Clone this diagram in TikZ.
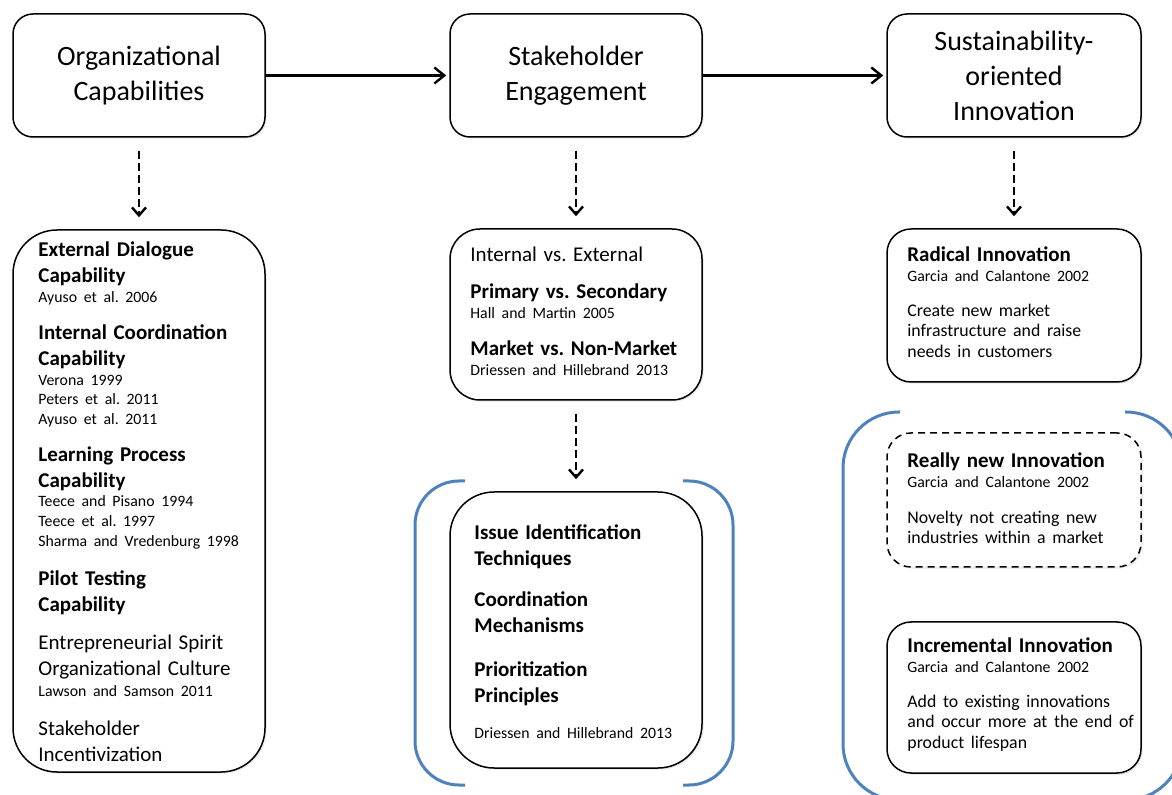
\documentclass[tikz,border=0pt]{standalone}
\usepackage{fontspec}
\setmainfont{Carlito}
\usetikzlibrary{arrows.meta,shadows}

\definecolor{bracketblue}{RGB}{79,129,189}

\newcommand{\head}[1]{{\fontsize{10.5pt}{13pt}\selectfont\bfseries #1\par}}
\newcommand{\plain}[1]{{\fontsize{10.5pt}{13pt}\selectfont #1\par}}
\newcommand{\refline}[1]{{\fontsize{7.9pt}{9.8pt}\selectfont #1\par}}
\newcommand{\desc}[1]{{\fontsize{8.9pt}{10.3pt}\selectfont #1\par}}
\newcommand{\blockgap}{\vspace{5.5pt}}
\frenchspacing

\begin{document}
\begin{tikzpicture}[x=0.5pt,y=-0.5pt,
    capbox/.style={draw,fill=white,line width=0.75pt,rounded corners=#1,minimum width=126pt,inner sep=0pt,
      drop shadow={opacity=0.18,shadow xshift=0.8pt,shadow yshift=-0.8pt}},
    capbox/.default=10pt,
    titletext/.style={align=center,font=\fontsize{14pt}{17.5pt}\selectfont},
    listtext/.style={anchor=base west,inner sep=0pt,text width=#1,align=left},
    flowarrow/.style={line width=1.2pt,-{Straight Barb[length=5pt,width=8pt]},shorten >=1.5pt},
    dasharrow/.style={line width=1.2pt,dash pattern=on 4pt off 2pt,-{Straight Barb[length=4pt,width=7pt]},
      shorten <=6.5pt,shorten >=6pt},
    bracket/.style={draw=bracketblue,line width=1.5pt}]
    \useasboundingbox (0,0) rectangle (1172,795);

    % top row
    \node[capbox,minimum height=61.5pt,titletext] (orgcap) at (139,75.5) {Organizational\\Capabilities};
    \node[capbox,minimum height=61.5pt,titletext] (stakeeng) at (576,75.5) {Stakeholder\\Engagement};
    \node[capbox,minimum height=61.5pt,minimum width=127pt,titletext] (soi) at (1014,75.5) {Sustainability-\\oriented\\Innovation};
    \draw[flowarrow] (orgcap.east) -- (stakeeng.west);
    \draw[flowarrow] (stakeeng.east) -- (soi.west);

    % organizational capabilities
    \node[capbox=22pt,minimum height=271pt] (orglist) at (139,501) {};
    \node[listtext=115pt] (orglisttext) at (38,257) {%
      \head{External Dialogue\\Capability}
      \refline{Ayuso et al. 2006}
      \blockgap\head{Internal Coordination\\Capability}
      \refline{Verona 1999\\Peters et al. 2011\\Ayuso et al. 2011}
      \blockgap\head{Learning Process\\Capability}
      \refline{Teece and Pisano 1994\\Teece et al. 1997\\Sharma and Vredenburg 1998}
      \vspace{6.5pt}\head{Pilot Testing\\Capability}
      \vspace{6pt}\plain{Entrepreneurial Spirit\\Organizational Culture}
      \vspace{1pt}\refline{Lawson and Samson 2011}
      \vspace{6.5pt}\plain{Stakeholder\\Incentivization}};
    \draw[dasharrow] (orgcap.south) -- (orglist.north);

    % stakeholder engagement
    \node[capbox=15pt,minimum height=85.5pt] (stakelist) at (576,314.5) {};
    \node[listtext=115pt] (stakelisttext) at (470,262) {%
      \plain{Internal vs. External}
      \blockgap\head{Primary vs. Secondary}
      \refline{Hall and Martin 2005}
      \blockgap\head{Market vs. Non-Market}
      \refline{Driessen and Hillebrand 2013}};
    \node[capbox=22pt,minimum height=138pt] (stakeissue) at (576,630) {};
    \node[listtext=115pt] (stakeissuetext) at (474,540) {%
      \head{Issue Identification\\Techniques}
      \vspace{7.5pt}\head{Coordination\\Mechanisms}
      \vspace{9pt}\head{Prioritization\\Principles}
      \vspace{8pt}\refline{Driessen and Hillebrand 2013}};
    \draw[dasharrow] (stakeeng.south) -- (stakelist.north);
    \draw[dasharrow] (stakelist.south) -- (stakeissue.north);

    % sustainability-oriented innovation
    \node[capbox=12pt,minimum width=127pt,minimum height=76.5pt] (radical) at (1014,305.5) {};
    \node[listtext=115pt] (radicaltext) at (907,262) {%
      \head{Radical Innovation}
      \refline{Garcia and Calantone 2002}
      \vspace{7pt}\desc{Create new market\\infrastructure and raise\\needs in customers}};
    \node[capbox=12pt,minimum width=127pt,minimum height=67pt,dash pattern=on 3.5pt off 2.5pt,drop shadow={opacity=0}] (reallynew) at (1014,500) {};
    \node[listtext=115pt] (reallynewtext) at (907,468) {%
      \head{Really new Innovation}
      \refline{Garcia and Calantone 2002}
      \vspace{7.5pt}\desc{Novelty not creating new\\industries within a market}};
    \node[capbox=12pt,minimum width=127pt,minimum height=75.5pt] (incremental) at (1014,697.5) {};
    \node[listtext=115pt] (incrementaltext) at (907,653) {%
      \head{Incremental Innovation}
      \refline{Garcia and Calantone 2002}
      \vspace{7pt}\desc{Add to existing innovations\\and occur more at the end of\\product lifespan}};
    \draw[dasharrow] (soi.south) -- (radical.north);

    % brackets
    \begin{scope}
      \clip (0,0) rectangle (1172,795);
      \draw[bracket,rounded corners=22pt] (465,481) -- (415,481) -- (415,785) -- (465,785);
      \draw[bracket,rounded corners=22pt] (683,481) -- (733,481) -- (733,785) -- (683,785);
      \draw[bracket,rounded corners=28pt] (900,412) -- (843,412) -- (843,800) -- (1182,800) -- (1182,412) -- (1125,412);
    \end{scope}
\end{tikzpicture}
\end{document}
